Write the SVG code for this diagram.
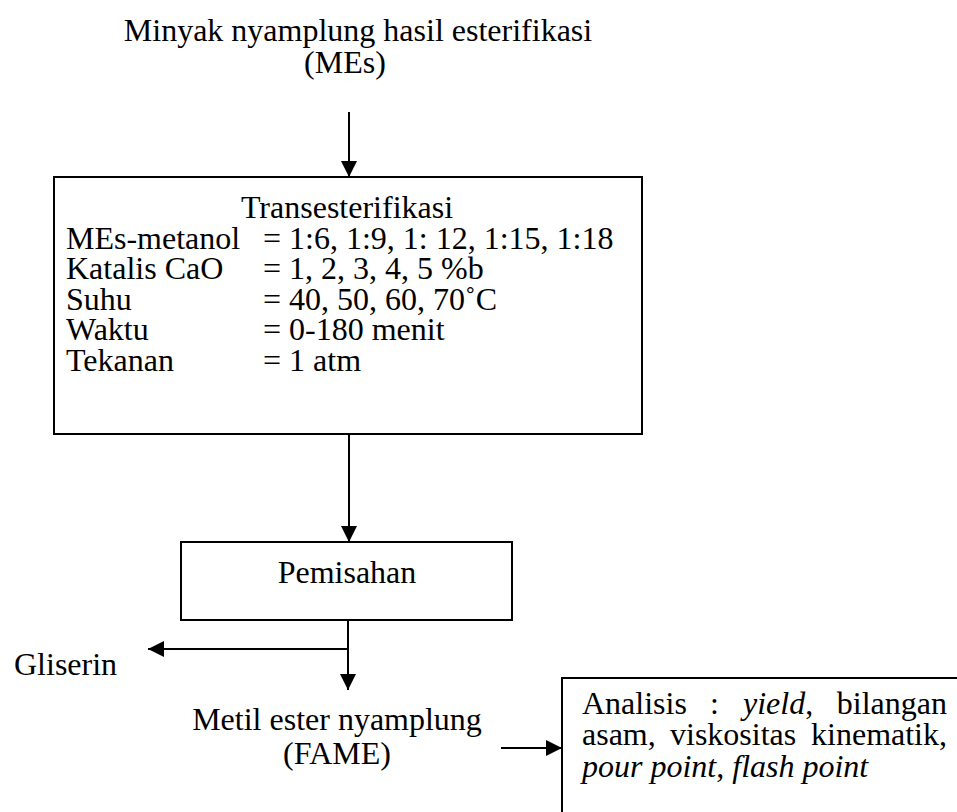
<svg xmlns="http://www.w3.org/2000/svg" width="957" height="812" viewBox="0 0 957 812">
  <style>
    text { font-family: "Liberation Serif", "Times New Roman", serif; font-size: 32px; fill: #000; }
    .mid { text-anchor: middle; }
    .end { text-anchor: end; }
    .it { font-style: italic; }
    .box { fill: #fff; stroke: #000; stroke-width: 2; }
    .line { fill: none; stroke: #000; stroke-width: 2; }
  </style>
  <defs>
    <marker id="arrow" viewBox="0 0 16 16" refX="16" refY="8" markerWidth="16" markerHeight="16" markerUnits="userSpaceOnUse" orient="auto">
      <path d="M0,0 L16,8 L0,16 Z" fill="#000"/>
    </marker>
  </defs>
  <rect width="957" height="812" fill="#fff"/>

  <!-- feed label -->
  <g id="feed">
    <text class="mid" x="358" y="41">Minyak nyamplung hasil esterifikasi</text>
    <text class="mid" x="345" y="73">(MEs)</text>
  </g>

  <!-- transesterification step with its conditions -->
  <g id="transesterifikasi">
    <rect class="box" x="54" y="177" width="588" height="257"/>
    <text class="mid" x="347" y="218">Transesterifikasi</text>
    <text x="66" y="249">MEs-metanol</text>
    <text x="263" y="249">= 1:6, 1:9, 1: 12, 1:15, 1:18</text>
    <text x="66" y="279">Katalis CaO</text>
    <text x="263" y="279">= 1, 2, 3, 4, 5 %b</text>
    <text x="66" y="310">Suhu</text>
    <text x="263" y="310">= 40, 50, 60, 70˚C</text>
    <text x="66" y="340">Waktu</text>
    <text x="263" y="340">= 0-180 menit</text>
    <text x="66" y="371">Tekanan</text>
    <text x="263" y="371">= 1 atm</text>
  </g>

  <!-- separation step -->
  <g id="pemisahan">
    <rect class="box" x="181" y="542" width="331" height="78"/>
    <text class="mid" x="347" y="583">Pemisahan</text>
  </g>

  <g id="gliserin">
    <text x="14" y="675">Gliserin</text>
  </g>

  <g id="fame">
    <text class="mid" x="337" y="730">Metil ester nyamplung</text>
    <text class="mid" x="337" y="764">(FAME)</text>
  </g>

  <!-- analysis box runs past the page edge; first two lines are justified -->
  <g id="analisis">
    <rect class="box" x="562" y="678" width="420" height="160"/>
    <text x="582" y="714">Analisis</text>
    <text x="710" y="714">:</text>
    <text x="743" y="714"><tspan class="it">yield</tspan>,</text>
    <text class="end" x="947" y="714">bilangan</text>
    <text x="582" y="745">asam,</text>
    <text x="670" y="745">viskositas</text>
    <text class="end" x="947" y="745">kinematik,</text>
    <text x="582" y="777"><tspan class="it">pour point</tspan>, <tspan class="it">flash point</tspan></text>
  </g>

  <g id="connectors">
    <path class="line" d="M349,112 V177" marker-end="url(#arrow)"/>
    <path class="line" d="M349,434 V542" marker-end="url(#arrow)"/>
    <path class="line" d="M348,620 V690" marker-end="url(#arrow)"/>
    <path class="line" d="M348,649 H148" marker-end="url(#arrow)"/>
    <path class="line" d="M501,748 H562" marker-end="url(#arrow)"/>
  </g>
</svg>
